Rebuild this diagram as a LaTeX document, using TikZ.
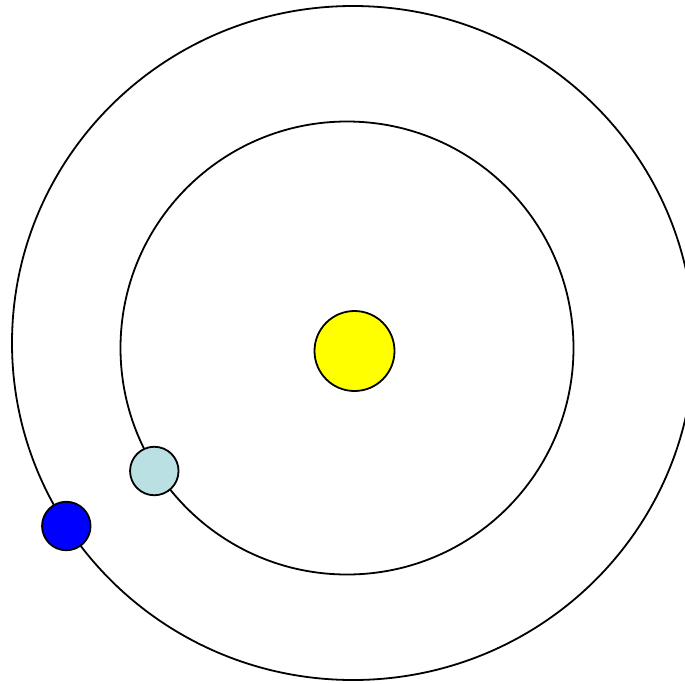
\documentclass[tikz,border=0pt]{standalone}
\definecolor{sunyellow}{RGB}{255,255,0}
\definecolor{planetlight}{RGB}{187,224,227}
\definecolor{planetblue}{RGB}{0,0,255}
\begin{document}
\begin{tikzpicture}[x=1pt,y=-1pt,
  orbit/.style={draw=black,line width=1.8pt},
  body/.style={circle,draw=black,line width=1.8pt,inner sep=0pt}]
\useasboundingbox (0,0) rectangle (685,683);
\draw[orbit] (353,343) ellipse [x radius=341,y radius=337];
\draw[orbit] (347,348) circle [radius=226.5];
\node[body,fill=sunyellow,minimum size=80pt] (sun) at (354.5,351) {};
\node[body,fill=planetlight,minimum size=48.5pt] (inner) at (154.3,471) {};
\node[body,fill=planetblue,minimum size=48.5pt] (outer) at (66.3,526) {};
\end{tikzpicture}
\end{document}
